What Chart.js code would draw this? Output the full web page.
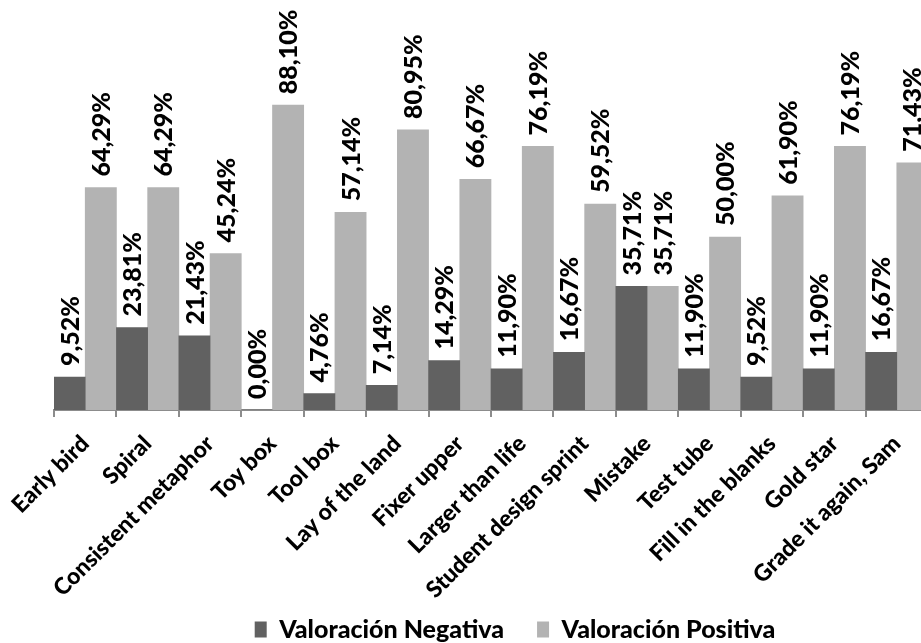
<!DOCTYPE html>
<html>
<head>
<meta charset="utf-8">
<script src="https://cdn.jsdelivr.net/npm/chart.js@4"></script>
<style>
  html, body { margin: 0; padding: 0; background: #fff; overflow: hidden; }
  #wrap { width: 1030px; height: 652px; }
</style>
</head>
<body>
<div id="wrap"><canvas id="chart" width="1030" height="652"></canvas></div>
<script>
const categories = ['Early bird', 'Spiral', 'Consistent metaphor', 'Toy box', 'Tool box', 'Lay of the land',
    'Fixer upper', 'Larger than life', 'Student design sprint', 'Mistake', 'Test tube',
    'Fill in the blanks', 'Gold star', 'Grade it again, Sam'];
const negativa = [9.52, 23.81, 21.43, 0.00, 4.76, 7.14, 14.29, 11.90, 16.67, 35.71, 11.90, 9.52, 11.90, 16.67];
const positiva = [64.29, 64.29, 45.24, 88.10, 57.14, 80.95, 66.67, 76.19, 59.52, 35.71, 50.00, 61.90, 76.19, 71.43];

const fontFamily = 'Lato, "Open Sans", sans-serif';

// draws the rotated value above each bar
const barLabels = {
    id: 'barLabels',
    afterDatasetsDraw(chart) {
        const ctx = chart.ctx;
        ctx.save();
        ctx.font = '900 25px ' + fontFamily;
        ctx.fillStyle = '#000';
        ctx.textAlign = 'left';
        ctx.textBaseline = 'middle';
        chart.data.datasets.forEach((ds, i) => {
            chart.getDatasetMeta(i).data.forEach((bar, j) => {
                const txt = ds.data[j].toFixed(2).replace('.', ',') + '%';
                ctx.save();
                ctx.translate(bar.x + 1, bar.y - 11);
                ctx.rotate(-Math.PI / 2);
                ctx.fillText(txt, 0, 0);
                ctx.restore();
            });
        });
        ctx.restore();
    }
};

// fixed sizes for the axes so the plot area stays put
function fixedWidth(w) {
    return function (scale) { scale.width = w; };
}
function fixedHeight(h) {
    return function (scale) { scale.height = h; };
}

new Chart('chart', {
    type: 'bar',
    data: {
        labels: categories,
        datasets: [{
            label: 'Valoración Negativa',
            backgroundColor: '#616161',
            data: negativa
        }, {
            label: 'Valoración Positiva',
            backgroundColor: '#b3b3b3',
            data: positiva
        }]
    },
    options: {
        responsive: false,
        animation: false,
        layout: {
            padding: { top: 64, left: 0, right: 0, bottom: 0 }
        },
        datasets: {
            bar: { barPercentage: 1, categoryPercentage: 1 }
        },
        scales: {
            y: {
                min: 0,
                max: 100,
                grid: { display: false },
                border: { display: false },
                ticks: { display: false },
                afterFit: fixedWidth(54)
            },
            y2: {
                position: 'right',
                min: 0,
                max: 100,
                grid: { display: false },
                border: { display: false },
                ticks: { display: false },
                afterFit: fixedWidth(102)
            },
            x: {
                afterFit: fixedHeight(199),
                grid: {
                    drawOnChartArea: false,
                    color: '#8c8c8c',
                    tickLength: 7,
                    lineWidth: 2
                },
                border: { color: '#8c8c8c', width: 2 },
                ticks: {
                    color: '#000',
                    minRotation: 45,
                    maxRotation: 45,
                    autoSkip: false,
                    padding: 13,
                    font: { family: fontFamily, size: 23, weight: '900' }
                }
            }
        },
        plugins: {
            tooltip: { enabled: false },
            legend: {
                position: 'bottom',
                labels: {
                    color: '#000',
                    boxWidth: 12,
                    boxHeight: 16,
                    padding: 8,
                    font: { family: fontFamily, size: 25, weight: '900' },
                    // wider gap between the two entries
                    generateLabels(chart) {
                        const items = Chart.defaults.plugins.legend.labels.generateLabels(chart);
                        items[0].text += '\u2002\u2002';
                        return items;
                    }
                }
            }
        }
    },
    plugins: [barLabels]
});
</script>
</body>
</html>
